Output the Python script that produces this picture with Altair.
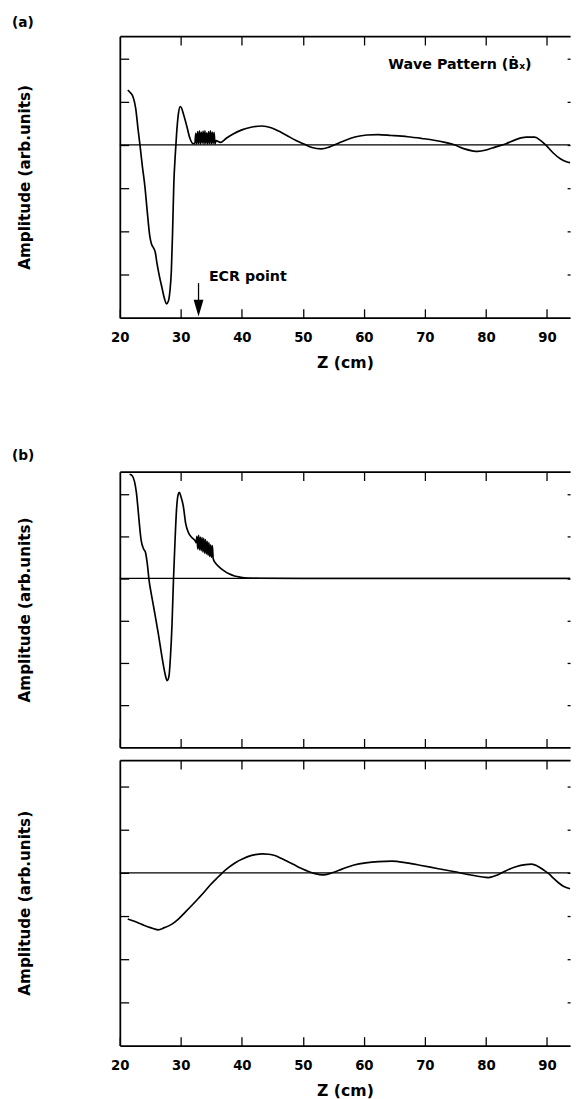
import altair as alt
import pandas as pd

FONT = "DejaVu Sans"
INK = "#000000"

Z_DOMAIN = [20, 93.8]
PLOT_W = 459

# ---------------- data ----------------
# panel (a): wave pattern
a_z = [21.3, 21.8, 22.2, 22.6, 23.0, 23.3, 23.7, 24.1, 24.5, 24.9, 25.2, 25.5, 25.8, 26.1,
       26.5, 26.9, 27.3, 27.65, 27.95, 28.2, 28.45, 28.65, 28.85, 29.1, 29.3, 29.6, 29.9,
       30.1, 30.5, 31.0, 31.5, 32.0,
       32.3, 32.45, 32.6, 32.75, 32.9, 33.05, 33.2, 33.35, 33.5, 33.65, 33.8, 33.95, 34.1,
       34.25, 34.4, 34.55, 34.7, 34.85, 35.0, 35.15, 35.3, 35.45, 35.6, 35.75,
       36.5, 37.5, 38.5, 40.0, 41.5, 43.3, 44.8, 46.2, 47.5, 48.8, 50.2, 51.5, 53.0, 54.3,
       55.5, 57.0, 58.7, 60.5, 62.3, 64.5, 67.2, 69.5, 71.5, 73.3, 74.7, 76.5, 78.7, 80.2,
       81.5, 83.3, 85.0, 86.6, 88.0, 89.0, 89.8, 91.0, 92.2, 93.2, 93.8]
a_v = [1.27, 1.2, 1.1, 0.85, 0.35, 0.0, -0.5, -0.95, -1.55, -2.1, -2.3, -2.38, -2.48, -2.75,
       -3.05, -3.3, -3.55, -3.68, -3.62, -3.4, -2.9, -2.0, -0.9, -0.2, 0.25, 0.72, 0.89,
       0.86, 0.68, 0.42, 0.15, 0.03,
       0.03, 0.27, 0.02, 0.31, 0.03, 0.33, 0.02, 0.30, 0.04, 0.32, 0.02, 0.33, 0.03,
       0.28, 0.02, 0.31, 0.03, 0.33, 0.02, 0.30, 0.03, 0.29, 0.02, 0.10,
       0.06, 0.16, 0.25, 0.35, 0.41, 0.44, 0.40, 0.31, 0.21, 0.11, 0.02, -0.06, -0.09, -0.05,
       0.02, 0.11, 0.19, 0.23, 0.24, 0.22, 0.19, 0.15, 0.11, 0.06, 0.01, -0.09, -0.15, -0.11,
       -0.05, 0.03, 0.13, 0.18, 0.18, 0.10, 0.0, -0.18, -0.32, -0.39, -0.41]

# panel (b), upper
b_z = [21.6, 22.0, 22.4, 22.7, 22.95, 23.2, 23.5, 23.9, 24.2, 24.5, 24.8, 25.2, 25.7, 26.3,
       26.9, 27.4, 27.75, 28.05, 28.3, 28.55, 28.8, 29.05, 29.3, 29.55, 29.75, 30.0, 30.4,
       30.8, 31.2, 31.8, 32.4,
       32.5, 32.64, 32.78, 32.92, 33.06, 33.2, 33.34, 33.48, 33.62, 33.76, 33.9, 34.04,
       34.18, 34.32, 34.46, 34.6, 34.74, 34.88, 35.02, 35.16, 35.3,
       35.35, 35.6, 36.3, 37.1, 37.9, 38.8, 39.8, 41.0, 43.0, 50.0, 60.0, 70.0, 80.0, 93.8]
b_v = [2.47, 2.44, 2.3, 2.05, 1.7, 1.3, 0.9, 0.7, 0.62, 0.35, -0.05, -0.4, -0.8, -1.3,
       -1.85, -2.25, -2.42, -2.32, -1.85, -1.1, 0.0, 0.9, 1.65, 1.98, 2.04, 1.95, 1.72,
       1.3, 1.1, 0.97, 0.88,
       0.85, 1.0, 0.7, 1.02, 0.68, 0.98, 0.66, 0.97, 0.63, 0.95, 0.6, 0.92,
       0.58, 0.88, 0.55, 0.85, 0.52, 0.8, 0.5, 0.78, 0.48,
       0.45, 0.38, 0.27, 0.18, 0.11, 0.06, 0.03, 0.01, 0.005, 0.0, 0.0, 0.0, 0.0, 0.0]

# panel (b), lower
c_z = [21.3, 22.5, 23.7, 25.0, 26.3, 27.3, 28.4, 29.6, 30.8, 31.9, 32.9, 33.8, 34.7, 35.8,
       36.8, 37.9, 39.0, 40.1, 41.1, 42.2, 43.3, 44.4, 45.4, 46.5, 47.5, 48.5, 49.6, 50.6,
       52.0, 53.3, 54.8, 56.5, 58.4, 60.3, 62.4, 64.6, 67.0, 69.4, 72.0, 74.7, 77.5, 80.4,
       81.9, 83.3, 84.9, 86.5, 87.5, 88.4, 89.4, 90.3, 91.1, 91.9, 92.7, 93.8]
c_v = [-1.07, -1.13, -1.2, -1.27, -1.32, -1.27, -1.2, -1.07, -0.9, -0.74, -0.59, -0.45,
       -0.30, -0.14, 0.0, 0.13, 0.24, 0.32, 0.38, 0.42, 0.44, 0.43, 0.40, 0.33, 0.26, 0.19,
       0.11, 0.05, -0.02, -0.05, 0.0, 0.09, 0.18, 0.23, 0.26, 0.27, 0.23, 0.17, 0.10, 0.03,
       -0.05, -0.11, -0.05, 0.05, 0.14, 0.19, 0.20, 0.16, 0.07, -0.02, -0.13, -0.23, -0.31,
       -0.37]

zero_z = [20, 93.8]
zero_v = [0, 0]

x_ticks = [20, 30, 40, 50, 60, 70, 80, 90]
y_ticks = [-3, -2, -1, 0, 1, 2]

ecr_z = [32.9]
ecr_top = [-3.2]
ecr_bottom = [-3.62]
ecr_head = [-3.78]
ecr_text = ["ECR point"]
ecr_text_z = [34.6]
ecr_text_v = [-3.05]

wave_text = ["Wave Pattern (Ḃₓ)"]
wave_text_z = [64.0]
wave_text_v = [1.84]

panel_titles = ["(a)", "(b)"]
y_title = "Amplitude (arb.units)"
x_title = "Z (cm)"


# ---------------- helpers ----------------
def xscale():
    return alt.Scale(domain=Z_DOMAIN, nice=False, zero=False)


def yscale(top):
    return alt.Scale(domain=[-4, top], nice=False, zero=False)


def x_axis_bottom(with_labels):
    kw = dict(orient="bottom", values=x_ticks, tickSize={"expr": "-9"}, tickWidth=1.3,
              tickColor=INK, domain=True, domainWidth=1.8, domainColor=INK, grid=False,
              minExtent=0)
    if with_labels:
        kw.update(labels=True, labelPadding=22, labelFlush=False, labelOverlap=False,
                  labelFont=FONT, labelFontSize=13.5, labelFontWeight="bold", labelColor=INK,
                  title=x_title, titleFont=FONT, titleFontSize=16, titleFontWeight="bold",
                  titleColor=INK, titlePadding=11)
    else:
        kw.update(labels=False, title=None)
    return alt.Axis(**kw)


def x_axis_top():
    return alt.Axis(orient="top", values=x_ticks[1:], tickSize={"expr": "-9"}, tickWidth=1.3,
                    tickColor=INK, domain=True, domainWidth=1.8, domainColor=INK, grid=False,
                    labels=False, title=None, minExtent=0)


def y_axis_left():
    return alt.Axis(orient="left", values=y_ticks, tickSize={"expr": "-9"}, tickWidth=1.3,
                    tickColor=INK, domain=True, domainWidth=1.8, domainColor=INK, grid=False,
                    labels=False, title=y_title, titleFont=FONT, titleFontSize=15.5,
                    titleFontWeight="bold", titleColor=INK, titlePadding=88, minExtent=0)


def y_axis_right():
    return alt.Axis(orient="right", values=y_ticks, tickSize={"expr": "-3"}, tickWidth=1.3,
                    tickColor=INK, domain=False, grid=False, labels=False, title=None,
                    minExtent=0)


def panel(z, v, top, height, bottom_labels, title=None, extras=()):
    df = pd.DataFrame({"z": z, "v": v})
    zero_df = pd.DataFrame({"z": zero_z, "v": zero_v})
    curve = alt.Chart(df).mark_line(color=INK, strokeWidth=1.7, interpolate="monotone").encode(
        x=alt.X("z:Q", scale=xscale(), axis=x_axis_bottom(bottom_labels)),
        y=alt.Y("v:Q", scale=yscale(top), axis=y_axis_left()),
        order="z:Q",
    )
    zero = alt.Chart(zero_df).mark_line(color=INK, strokeWidth=1.3).encode(
        x=alt.X("z:Q", scale=xscale(), axis=x_axis_top()),
        y=alt.Y("v:Q", scale=yscale(top), axis=y_axis_right()),
    )
    layers = [zero, curve] + [e(top) for e in extras]
    props = dict(width=PLOT_W, height=height)
    if title is not None:
        props["title"] = title
    return alt.layer(*layers).properties(**props).resolve_axis(x="independent", y="independent")


def ecr_arrow(top):
    df = pd.DataFrame({"z": ecr_z, "t": ecr_top, "b": ecr_bottom, "h": ecr_head})
    shaft = alt.Chart(df).mark_rule(color=INK, strokeWidth=1.3).encode(
        x=alt.X("z:Q", scale=xscale(), axis=None),
        y=alt.Y("t:Q", scale=yscale(top), axis=None),
        y2="b:Q",
    )
    head = alt.Chart(df).mark_point(filled=True, color=INK, opacity=1, size=100,
                                    shape="M-1,-1.7L1,-1.7L0,1.7Z").encode(
        x=alt.X("z:Q", scale=xscale(), axis=None),
        y=alt.Y("h:Q", scale=yscale(top), axis=None),
    )
    return alt.layer(shaft, head)


def ecr_label(top):
    df = pd.DataFrame({"z": ecr_text_z, "v": ecr_text_v, "t": ecr_text})
    return alt.Chart(df).mark_text(align="left", baseline="middle", font=FONT, fontSize=14.5,
                                   fontWeight="bold", color=INK).encode(
        x=alt.X("z:Q", scale=xscale(), axis=None),
        y=alt.Y("v:Q", scale=yscale(top), axis=None),
        text="t:N",
    )


def wave_label(top):
    df = pd.DataFrame({"z": wave_text_z, "v": wave_text_v, "t": wave_text})
    return alt.Chart(df).mark_text(align="left", baseline="middle", font=FONT, fontSize=14.5,
                                   fontWeight="bold", color=INK).encode(
        x=alt.X("z:Q", scale=xscale(), axis=None),
        y=alt.Y("v:Q", scale=yscale(top), axis=None),
        text="t:N",
    )


def ptitle(text, offset, line_height=None):
    kw = dict(text=text, anchor="start", frame="group", dx=-110, offset=offset,
              baseline="bottom", font=FONT, fontSize=14, fontWeight="bold", color=INK)
    if line_height is not None:
        kw["lineHeight"] = line_height
    return alt.TitleParams(**kw)


panel_a = panel(a_z, a_v, 2.52, 287, True, ptitle(panel_titles[0], -8),
                extras=(ecr_arrow, ecr_label, wave_label))
panel_b = panel(b_z, b_v, 2.53, 281, False, ptitle(["", panel_titles[1]], -6, 69))
panel_c = panel(c_z, c_v, 2.61, 291, True)

chart = alt.vconcat(panel_a, panel_b, panel_c, spacing=11).properties(
    padding={"left": 4, "top": -3, "right": 0, "bottom": 0},
    background="white",
).configure_view(strokeWidth=0)

chart.save("out.html", embed_options={"renderer": "svg", "actions": False})
